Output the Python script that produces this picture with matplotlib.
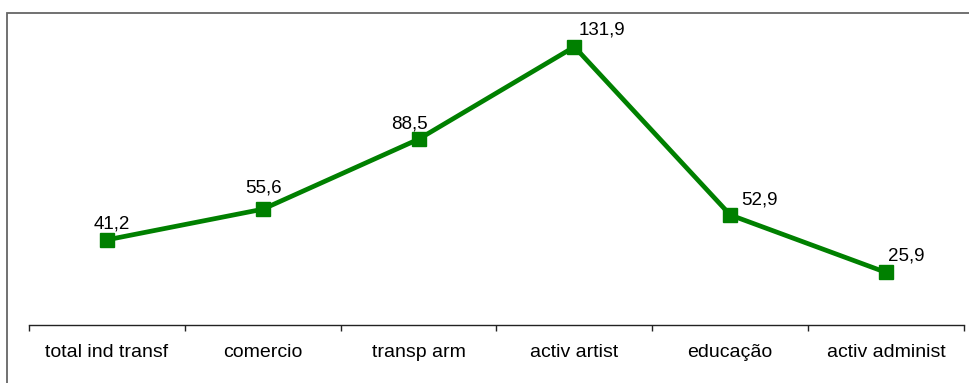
import matplotlib
matplotlib.use("Agg")
import matplotlib.pyplot as plt
from matplotlib.patches import Rectangle
import numpy as np

plt.rcParams['font.family'] = ['Liberation Sans', 'DejaVu Sans']

categorias = ['total ind transf', 'comercio', 'transp arm', 'activ artist', 'educação', 'activ administ']
valores = [41.2, 55.6, 88.5, 131.9, 52.9, 25.9]
rotulos = ['41,2', '55,6', '88,5', '131,9', '52,9', '25,9']
# label offsets in pixels (x, y), like Excel placed them
offs = [(5, 16), (1, 21), (-9, 15), (28, 17), (29, 15), (20, 16)]

verde = '#008000'

fig = plt.figure(figsize=(9.69, 3.83), dpi=100)
ax = fig.add_axes([29/969, 58/383, (964-29)/969, (325-30)/383])

x = np.arange(len(categorias))
ax.plot(x, valores, color=verde, linewidth=3.4, marker='s', markersize=10,
        markeredgecolor=verde, markerfacecolor=verde, clip_on=False, zorder=3)

for xi, v, t, o in zip(x, valores, rotulos, offs):
    ax.annotate(t, xy=(xi, v), xytext=o, textcoords='offset pixels',
                ha='center', va='center', fontsize=13.5, color='black')

ax.set_xlim(-0.5, len(categorias)-0.5)
ax.set_ylim(1.2, 139.8)

for s in ['top', 'right', 'left']:
    ax.spines[s].set_visible(False)
ax.spines['bottom'].set_color('#222222')
ax.spines['bottom'].set_linewidth(1.0)
ax.set_yticks([])

ax.set_xticks(x)
ax.set_xticklabels(categorias, fontsize=14)
ax.tick_params(axis='x', which='major', length=0, pad=14)
ax.set_xticks(np.arange(-0.5, len(categorias), 1.0), minor=True)
ax.tick_params(axis='x', which='minor', length=4, width=1, color='#222222', direction='out')

# outer chart border (only top/left visible in crop)
fig.add_artist(Rectangle((7/969, -0.2), 1.2, (383-13)/383 + 0.2,
                         transform=fig.transFigure, fill=False,
                         edgecolor='#666666', linewidth=1.3, clip_on=False))

fig.savefig('out.png', dpi=100)
